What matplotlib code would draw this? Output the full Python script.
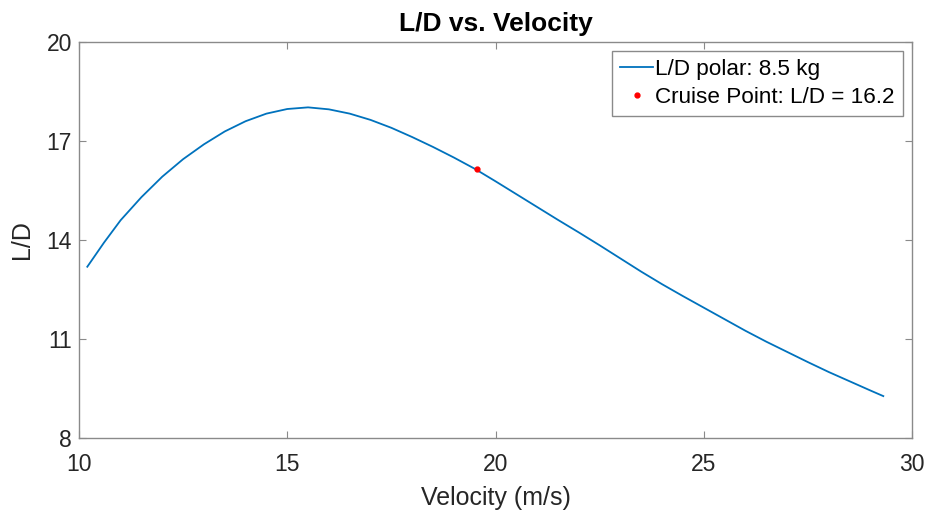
import matplotlib
matplotlib.use("Agg")
import matplotlib.pyplot as plt

velocity = [10.2, 10.6, 11.0, 11.5, 12.0, 12.5, 13.0, 13.5, 14.0, 14.5,
            15.0, 15.5, 16.0, 16.5, 17.0, 17.5, 18.0, 18.5, 19.0, 19.5,
            20.0, 20.5, 21.0, 21.5, 22.0, 22.5, 23.0, 23.5, 24.0, 24.5,
            25.0, 25.5, 26.0, 26.5, 27.0, 27.5, 28.0, 28.5, 29.0, 29.31]
ld_ratio = [13.19, 13.92, 14.60, 15.30, 15.92, 16.45, 16.90, 17.29, 17.60, 17.83,
            17.97, 18.02, 17.96, 17.83, 17.64, 17.40, 17.12, 16.82, 16.50, 16.16,
            15.78, 15.39, 15.00, 14.61, 14.23, 13.84, 13.44, 13.04, 12.66, 12.30,
            11.95, 11.60, 11.25, 10.92, 10.61, 10.30, 10.00, 9.72, 9.44, 9.27]
cruise_v = [19.55]
cruise_ld = [16.15]

xticks = [10, 15, 20, 25, 30]
yticks = [8, 11, 14, 17, 20]

plt.rcParams['font.family'] = ['Liberation Sans', 'DejaVu Sans']

fig = plt.figure(figsize=(9.28, 5.15), dpi=100)
ax = fig.add_axes([0.0851, 0.1495, 0.8977, 0.7689])

ax.plot(velocity, ld_ratio, color='#0072BD', linewidth=1.3, label='L/D polar: 8.5 kg')
ax.plot(cruise_v, cruise_ld, linestyle='none', marker='.', color='#FF0000',
        markersize=7, label='Cruise Point: L/D = 16.2')

ax.set_xlim(10, 30)
ax.set_ylim(8, 20)
ax.set_xticks(xticks)
ax.set_yticks(yticks)
ax.tick_params(direction='in', top=True, right=True, length=5, width=0.8,
               color='#8a8a8a', labelcolor='#262626', labelsize=16.5)
ax.tick_params(axis='x', pad=11)
ax.tick_params(axis='y', pad=5)
for sp in ax.spines.values():
    sp.set_color('#8a8a8a')
    sp.set_linewidth(1.0)

ax.set_xlabel('Velocity (m/s)', fontsize=18, color='#262626', labelpad=7)
ax.set_ylabel('L/D', fontsize=18, color='#262626', labelpad=9)
ax.set_title('L/D vs. Velocity', fontsize=19, fontweight='bold', color='black', pad=8)

leg = ax.legend(loc='upper right', fontsize=16.2, frameon=True, fancybox=False,
                edgecolor='#8a8a8a', framealpha=1, handlelength=1.45,
                handletextpad=0.1, borderpad=0.35, labelspacing=0.3,
                borderaxespad=0.42)
leg.get_frame().set_linewidth(1.0)

fig.savefig('out.png', dpi=100)
